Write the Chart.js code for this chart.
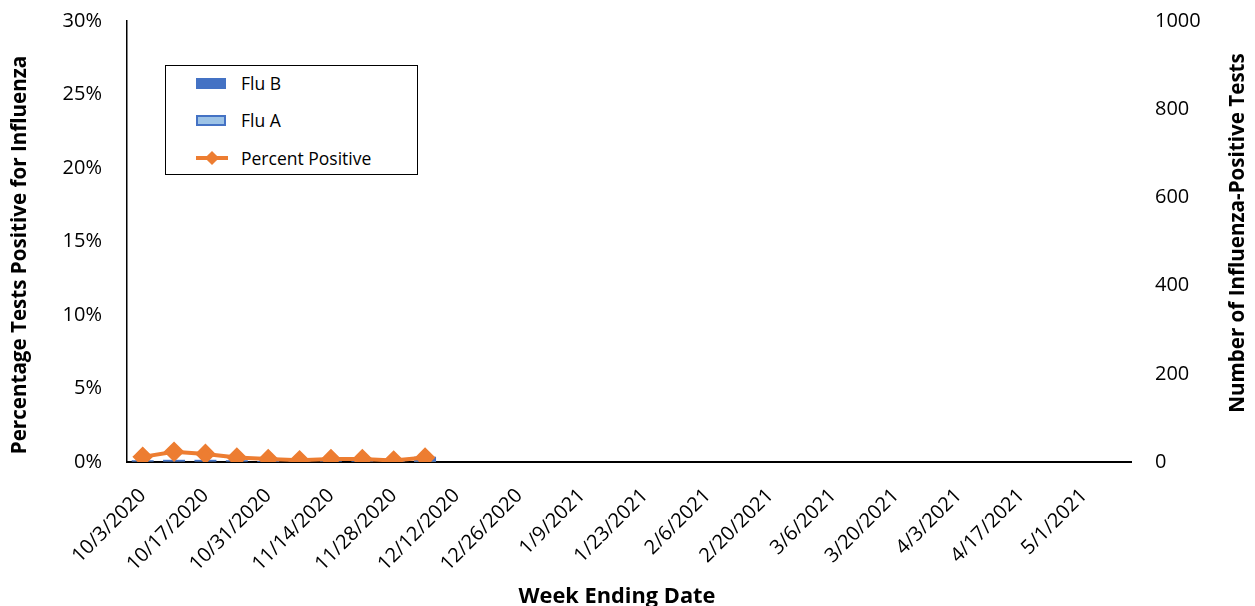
<!DOCTYPE html>
<html>
<head>
<meta charset="utf-8">
<script src="https://cdn.jsdelivr.net/npm/chart.js@4.4.1/dist/chart.umd.min.js"></script>
<style>
  body { margin: 0; background: #fff; }
  .wrap { position: relative; width: 1255px; height: 606px; }
  canvas { position: absolute; left: 0; top: 0; }
  .legend {
    position: absolute; left: 165px; top: 65px; width: 251px; height: 108px;
    border: 1.5px solid #000; background: #fff;
    font-family: 'Open Sans', sans-serif; font-size: 17.5px; color: #000;
  }
  .item { position: absolute; left: 30px; height: 22px; display: flex; align-items: center; }
  .item span { margin-left: 15px; }
  .sw { width: 30px; height: 11px; box-sizing: border-box; }
  .line { width: 32px; height: 14px; position: relative; }
  .line::before { content: ''; position: absolute; left: 0; right: 0; top: 5px; height: 4px; background: #ED7D31; }
  .line::after { content: ''; position: absolute; left: 11px; top: 2px; width: 10px; height: 10px; background: #ED7D31; transform: rotate(45deg); }
</style>
</head>
<body>
<div class="wrap">
  <canvas id="fluChart" width="1255" height="606"></canvas>
  <div class="legend">
    <div class="item" style="top:6px"><div class="sw" style="background:#4472C4"></div><span>Flu B</span></div>
    <div class="item" style="top:43px"><div class="sw" style="background:#9DC3E6;border:2px solid #4472C4"></div><span>Flu A</span></div>
    <div class="item" style="top:81px"><div class="line"></div><span style="margin-left:13px">Percent Positive</span></div>
  </div>
</div>
<script>
// week ending dates, 2020-21 season
const weeks = [
  '10/3/2020', '10/10/2020', '10/17/2020', '10/24/2020', '10/31/2020', '11/7/2020',
  '11/14/2020', '11/21/2020', '11/28/2020', '12/5/2020', '12/12/2020', '12/19/2020',
  '12/26/2020', '1/2/2021', '1/9/2021', '1/16/2021', '1/23/2021', '1/30/2021',
  '2/6/2021', '2/13/2021', '2/20/2021', '2/27/2021', '3/6/2021', '3/13/2021',
  '3/20/2021', '3/27/2021', '4/3/2021', '4/10/2021', '4/17/2021', '4/24/2021',
  '5/1/2021', '5/8/2021'
];

// only first 10 weeks reported so far
const fluA = [1, 1, 1, 1, 0, 0, 1, 1, 0, 2];
const fluB = [3, 4, 4, 3, 2, 2, 3, 3, 2, 10];
const pctPositive = [0.35, 0.7, 0.55, 0.3, 0.2, 0.12, 0.2, 0.2, 0.1, 0.3];

const pctTicks = [0, 5, 10, 15, 20, 25, 30];
const countTicks = [0, 200, 400, 600, 800, 1000];

const pad = arr => weeks.map((w, i) => i < arr.length ? arr[i] : null);

const tickFont = { family: "'Open Sans', sans-serif", size: 20 };

// axis titles drawn by hand so the right one reads bottom-to-top like Excel
const axisTitles = {
    id: 'axisTitles',
    afterDraw(chart) {
        const c = chart.ctx;
        const drawTitle = (text, x, y, angle, size) => {
            c.save();
            c.translate(x, y);
            c.rotate(angle);
            c.font = `bold ${size}px 'Open Sans', sans-serif`;
            c.fillStyle = '#000';
            c.textAlign = 'center';
            c.textBaseline = 'middle';
            c.fillText(text, 0, 0);
            c.restore();
        };
        drawTitle('Percentage Tests Positive for Influenza', 20, 255, -Math.PI / 2, 20.6);
        drawTitle('Number of Influenza-Positive Tests', 1238, 233, -Math.PI / 2, 20.6);
        drawTitle('Week Ending Date', 617, 597, 0, 21.8);
    }
};

const ctx = document.getElementById('fluChart').getContext('2d');
new Chart(ctx, {
    type: 'bar',
    data: {
        labels: weeks,
        datasets: [
            {
                type: 'line',
                label: 'Percent Positive',
                data: pad(pctPositive),
                yAxisID: 'yPct',
                borderColor: '#ED7D31',
                backgroundColor: '#ED7D31',
                borderWidth: 4,
                pointStyle: 'rectRot',
                pointRadius: 7.5,
                tension: 0,
                order: 0
            },
            {
                label: 'Flu A',
                data: pad(fluA),
                yAxisID: 'yCount',
                backgroundColor: '#9DC3E6',
                borderColor: '#4472C4',
                borderWidth: 1,
                barPercentage: 0.7,
                categoryPercentage: 1,
                order: 1
            },
            {
                label: 'Flu B',
                data: pad(fluB),
                yAxisID: 'yCount',
                backgroundColor: '#4472C4',
                barPercentage: 0.7,
                categoryPercentage: 1,
                order: 2
            }
        ]
    },
    options: {
        responsive: false,
        animation: false,
        layout: { padding: { top: 21, left: 0, right: 0, bottom: 0 } },
        plugins: { legend: { display: false }, tooltip: { enabled: false } },
        scales: {
            x: {
                stacked: true,
                grid: { display: false, drawTicks: false },
                border: { color: '#000', width: 2 },
                ticks: {
                    autoSkip: false, minRotation: 45, maxRotation: 45, padding: 22,
                    color: '#000', font: tickFont,
                    callback: (v, i) => i % 2 ? null : weeks[i]
                },
                afterFit: s => { s.height = 144; s.paddingLeft = 0; s.paddingRight = 0; }
            },
            yPct: {
                position: 'left',
                min: 0, max: 30,
                grid: { display: false, drawTicks: false },
                border: { color: '#000', width: 1.5 },
                afterBuildTicks: s => { s.ticks = pctTicks.map(v => ({ value: v })); },
                ticks: { color: '#000', font: tickFont, padding: 25, callback: v => v + '%' },
                afterFit: s => { s.width = 127; s.paddingTop = 0; s.paddingBottom = 0; }
            },
            yCount: {
                position: 'right',
                stacked: true,
                min: 0, max: 1000,
                grid: { display: false, drawTicks: false },
                border: { display: false },
                afterBuildTicks: s => { s.ticks = countTicks.map(v => ({ value: v })); },
                ticks: { color: '#000', font: tickFont, padding: 24, callback: v => String(v) },
                afterFit: s => { s.width = 124; s.paddingTop = 0; s.paddingBottom = 0; }
            }
        }
    },
    plugins: [axisTitles]
});
</script>
</body>
</html>
